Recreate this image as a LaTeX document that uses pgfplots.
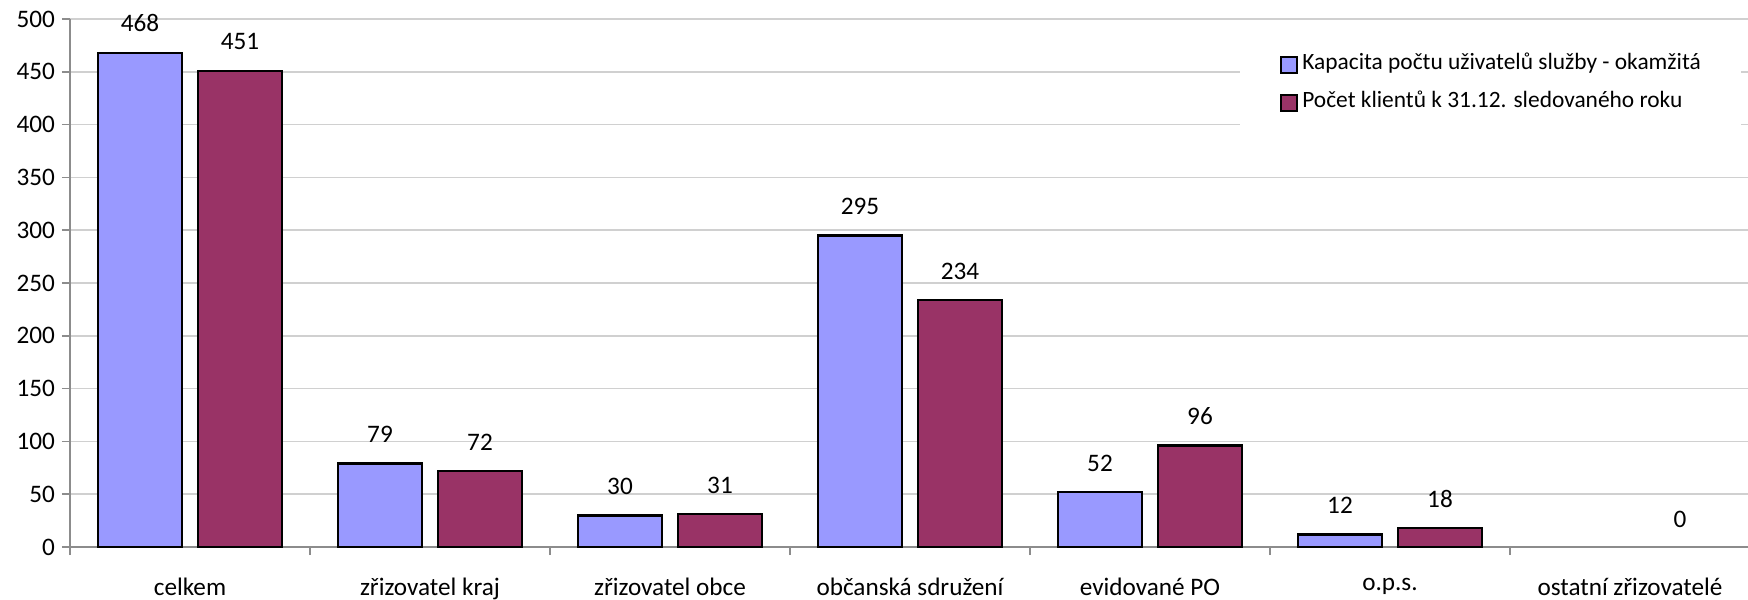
\documentclass[border=0pt]{standalone}
\usepackage{pgfplots}
\pgfplotsset{compat=1.18}
\usepackage{fontspec}
\setmainfont{Carlito}
\definecolor{kap}{HTML}{9999FF}
\definecolor{poc}{HTML}{993366}
\definecolor{gridc}{HTML}{D0D0D0}
\definecolor{axc}{HTML}{8C8C8C}

\begin{document}
\begin{tikzpicture}
\begin{axis}[
  at={(35pt,26pt)}, anchor=south west,
  scale only axis, width=840pt, height=264pt,
  xmin=-0.5, xmax=6.5, ymin=0, ymax=500,
  ybar, bar width=42pt,
  ytick={0,50,...,500},
  xtick={-0.5,0.5,...,6.5},
  x tick label as interval,
  xticklabels={celkem, zřizovatel kraj, zřizovatel obce, občanská sdružení, evidované PO, o.p.s., ostatní zřizovatelé},
  ymajorgrids, major grid style={gridc, line width=0.75pt},
  axis x line*=bottom, axis y line*=left,
  axis line style={axc, line width=0.75pt, -},
  tick style={axc, line width=0.75pt},
  tick align=outside, major tick length=4pt,
  ticklabel style={font=\fontsize{12.6}{14}\selectfont, text=black},
  xticklabel style={yshift=-8pt},
  /pgf/number format/assume math mode=true,
  nodes near coords,
  every node near coord/.append style={anchor=south, inner sep=0pt, yshift=9.7pt, font=\fontsize{12.6}{14}\selectfont, text=black},
  legend style={at={(0.6964,0.965)}, anchor=north west, draw=none, fill=white,
    font=\fontsize{11.7}{13}\selectfont, inner xsep=20pt, inner ysep=8pt,
    row sep=8pt, nodes={inner sep=0pt, text height=8pt, text depth=3pt},
    /tikz/every odd column/.append style={column sep=2pt}},
  legend cell align=left,
  clip=false,
]
\addplot[fill=kap, draw=black, line width=1.2pt, bar shift=-25pt,
  legend image code/.code={\draw[fill=kap, draw=black, line width=1pt] (0pt,-4pt) rectangle (8pt,4pt);}]
  coordinates {(0,468) (1,79) (2,30) (3,295) (4,52) (5,12)};
\addlegendentry{Kapacita počtu uživatelů služby - okamžitá}
\addplot[fill=poc, draw=black, line width=1.2pt, bar shift=25pt,
  legend image code/.code={\draw[fill=poc, draw=black, line width=1pt] (0pt,-4pt) rectangle (8pt,4pt);}]
  coordinates {(0,451) (1,72) (2,31) (3,234) (4,96) (5,18)};
\addlegendentry{Počet klientů k 31.12. sledovaného roku}
\addplot[draw=none, fill=none, bar shift=25pt, forget plot]
  coordinates {(6,0)};
\end{axis}
\pgfresetboundingbox
\path[use as bounding box] (0,0) rectangle (874pt,299.5pt);
\end{tikzpicture}
\end{document}
